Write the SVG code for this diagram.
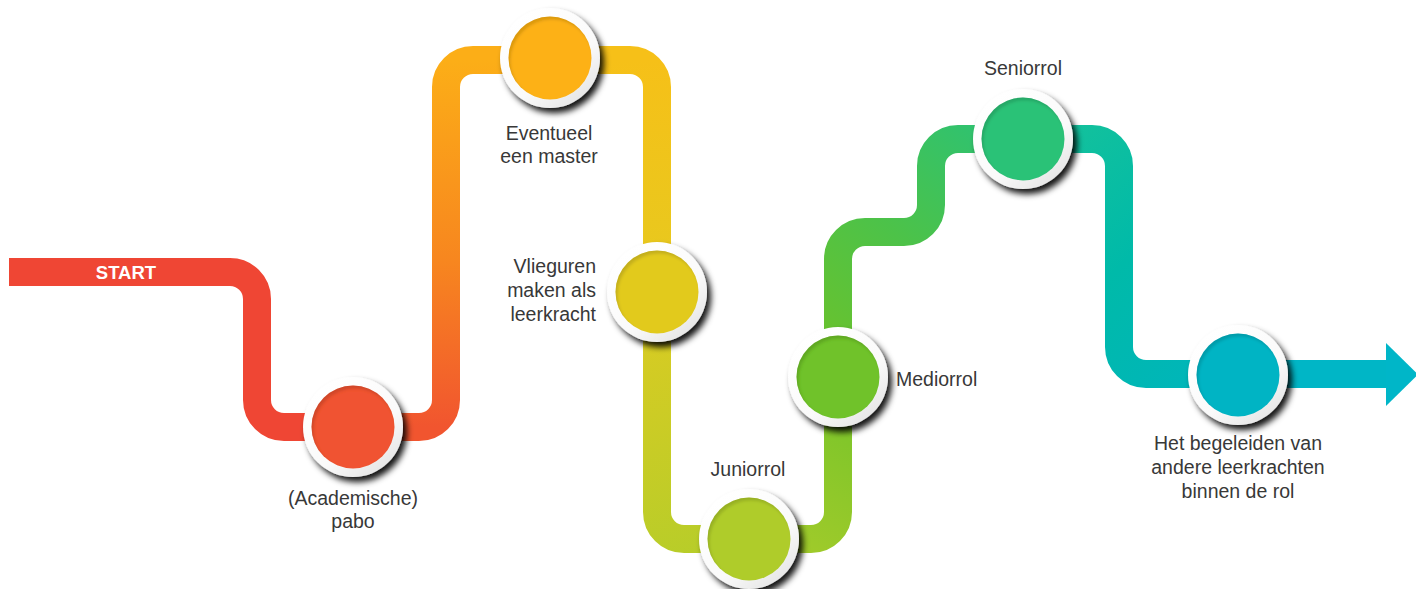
<svg xmlns="http://www.w3.org/2000/svg" width="1416" height="589" viewBox="0 0 1416 589">
<style>
.road{fill:none;stroke-width:28;stroke-linecap:butt;stroke-linejoin:round}
.ring{fill:url(#ringG);filter:url(#sh)}
.dot{filter:url(#inset)}
.lbl{font-family:"Liberation Sans",Arial,sans-serif;font-size:19.5px;fill:#383838}
.start{font-family:"Liberation Sans",Arial,sans-serif;font-size:18.5px;font-weight:bold;fill:#ffffff}
</style>
<defs>
<filter id="sh" x="-30%" y="-30%" width="160%" height="160%">
<feDropShadow dx="4" dy="5" stdDeviation="3" flood-color="#000" flood-opacity="0.92"/>
</filter>
<filter id="inset" x="-10%" y="-10%" width="120%" height="120%">
<feOffset in="SourceAlpha" dx="2" dy="2.5" result="o"/>
<feGaussianBlur in="o" stdDeviation="1.5" result="b"/>
<feComposite operator="out" in="SourceAlpha" in2="b" result="inv"/>
<feFlood flood-color="#000" flood-opacity="0.28"/>
<feComposite operator="in" in2="inv" result="s"/>
<feComposite operator="over" in="s" in2="SourceGraphic"/>
</filter>
<linearGradient id="ringG" x1="0.2" y1="0.1" x2="0.85" y2="0.95">
<stop offset="0" stop-color="#ffffff"/><stop offset="0.6" stop-color="#fafafa"/><stop offset="1" stop-color="#e4e4e4"/>
</linearGradient>
<linearGradient id="g2" gradientUnits="userSpaceOnUse" x1="0" y1="427" x2="0" y2="60">
<stop offset="0" stop-color="#F1552F"/><stop offset="0.45" stop-color="#F7861F"/><stop offset="1" stop-color="#FCAE17"/>
</linearGradient>
<linearGradient id="g3" gradientUnits="userSpaceOnUse" x1="0" y1="60" x2="0" y2="292">
<stop offset="0" stop-color="#F6C018"/><stop offset="1" stop-color="#E6CA1F"/>
</linearGradient>
<linearGradient id="g4" gradientUnits="userSpaceOnUse" x1="657" y1="292" x2="749" y2="539">
<stop offset="0" stop-color="#DCCB22"/><stop offset="1" stop-color="#B7CD29"/>
</linearGradient>
<linearGradient id="g5" gradientUnits="userSpaceOnUse" x1="749" y1="539" x2="838" y2="377">
<stop offset="0" stop-color="#A3CB2A"/><stop offset="1" stop-color="#76C42A"/>
</linearGradient>
<linearGradient id="g6" gradientUnits="userSpaceOnUse" x1="838" y1="377" x2="1023" y2="139">
<stop offset="0" stop-color="#6DC22A"/><stop offset="0.5" stop-color="#4CC249"/><stop offset="1" stop-color="#2CC274"/>
</linearGradient>
<linearGradient id="g7" gradientUnits="userSpaceOnUse" x1="1023" y1="139" x2="1238" y2="374">
<stop offset="0" stop-color="#16C29A"/><stop offset="0.5" stop-color="#00BAA9"/><stop offset="1" stop-color="#00B5BC"/>
</linearGradient>
</defs>
<rect width="1416" height="589" fill="#ffffff"/>
<g id="connectors">
<path class="road" stroke="#EF4634" d="M 9 272 H 230 A 27 27 0 0 1 257 299 V 400 A 27 27 0 0 0 284 427 H 353"/>
<path class="road" stroke="url(#g2)" d="M 353 427 H 419 A 27 27 0 0 0 446 400 V 87 A 27 27 0 0 1 473 60 H 550"/>
<path class="road" stroke="url(#g3)" d="M 550 60 H 630 A 27 27 0 0 1 657 87 V 292"/>
<path class="road" stroke="url(#g4)" d="M 657 292 V 512 A 27 27 0 0 0 684 539 H 749"/>
<path class="road" stroke="url(#g5)" d="M 749 539 H 811 A 27 27 0 0 0 838 512 V 377"/>
<path class="road" stroke="url(#g6)" d="M 838 377 V 259 A 27 27 0 0 1 865 232 H 904 A 27 27 0 0 0 931 205 V 166 A 27 27 0 0 1 958 139 H 1023"/>
<path class="road" stroke="url(#g7)" d="M 1023 139 H 1092 A 27 27 0 0 1 1119 166 V 347 A 27 27 0 0 0 1146 374 H 1238"/>
<path class="road" stroke="#00B6C6" d="M 1238 374 H 1388"/>
<polygon points="1386,343 1418,374.5 1386,406" fill="#00B6C8"/>
</g>
<g id="start">
<text class="start" x="126" y="279" text-anchor="middle">START</text>
</g>
<g id="node-pabo">
<circle class="ring" cx="353" cy="427" r="50"/>
<circle class="dot" cx="353" cy="427" r="41.5" fill="#F05330"/>
<text class="lbl" text-anchor="middle"><tspan x="353" y="505">(Academische)</tspan><tspan x="353" y="528">pabo</tspan></text>
</g>
<g id="node-master">
<circle class="ring" cx="550" cy="58" r="50"/>
<circle class="dot" cx="550" cy="58" r="41.5" fill="#FDB114"/>
<text class="lbl" text-anchor="middle"><tspan x="549" y="140">Eventueel</tspan><tspan x="549" y="163">een master</tspan></text>
</g>
<g id="node-vlieguren">
<circle class="ring" cx="657" cy="292" r="50"/>
<circle class="dot" cx="657" cy="292" r="41.5" fill="#E2CA1F"/>
<text class="lbl" text-anchor="end"><tspan x="596" y="273">Vlieguren</tspan><tspan x="596" y="297">maken als</tspan><tspan x="596" y="321">leerkracht</tspan></text>
</g>
<g id="node-junior">
<circle class="ring" cx="749" cy="539" r="50"/>
<circle class="dot" cx="749" cy="539" r="41.5" fill="#AFCC2A"/>
<text class="lbl" x="748" y="476" text-anchor="middle">Juniorrol</text>
</g>
<g id="node-medior">
<circle class="ring" cx="838" cy="377" r="50"/>
<circle class="dot" cx="838" cy="377" r="41.5" fill="#6FC229"/>
<text class="lbl" x="896" y="386">Mediorrol</text>
</g>
<g id="node-senior">
<circle class="ring" cx="1023" cy="139" r="50"/>
<circle class="dot" cx="1023" cy="139" r="41.5" fill="#2CC277"/>
<text class="lbl" x="1023" y="75" text-anchor="middle">Seniorrol</text>
</g>
<g id="node-begeleiden">
<circle class="ring" cx="1238" cy="375" r="50"/>
<circle class="dot" cx="1238" cy="375" r="41.5" fill="#00B4C4"/>
<text class="lbl" text-anchor="middle"><tspan x="1238" y="450">Het begeleiden van</tspan><tspan x="1238" y="474">andere leerkrachten</tspan><tspan x="1238" y="498">binnen de rol</tspan></text>
</g>
</svg>
